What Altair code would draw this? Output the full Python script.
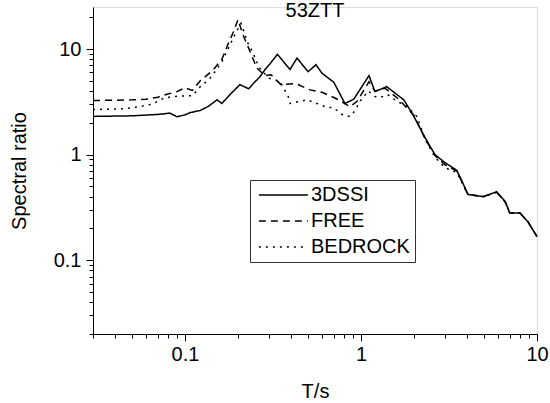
import altair as alt
import pandas as pd

series_names = ["3DSSI", "FREE", "BEDROCK"]

x_3dssi = [0.03, 0.05, 0.07, 0.082, 0.09, 0.1, 0.107, 0.122, 0.135, 0.152, 0.162, 0.18, 0.205, 0.23, 0.25,
           0.265, 0.285, 0.305, 0.335, 0.395, 0.433, 0.5, 0.555, 0.6, 0.7, 0.81, 0.91, 1.11, 1.2, 1.4,
           1.75, 1.97, 2.31, 2.63, 3.0, 3.5, 3.75, 4.05, 4.95, 5.9, 6.6, 7.0, 8.0, 8.9, 10]
y_3dssi = [2.3, 2.33, 2.4, 2.47, 2.28, 2.38, 2.5, 2.62, 2.85, 3.3, 3.05, 3.7, 4.6, 4.2, 4.9,
           5.4, 6.4, 7.3, 8.9, 6.4, 8.2, 6.1, 7.1, 5.9, 4.85, 3.05, 3.35, 5.6, 3.95, 4.4,
           3.3, 2.4, 1.45, 1.0, 0.84, 0.71, 0.56, 0.42, 0.40, 0.445, 0.36, 0.28, 0.28, 0.23, 0.167]

x_free = [0.03, 0.05, 0.06, 0.07, 0.08, 0.09, 0.1, 0.11, 0.122, 0.144, 0.162, 0.175, 0.19, 0.2,
          0.214, 0.234, 0.256, 0.285, 0.308, 0.351, 0.427, 0.513, 0.6, 0.72, 0.866, 0.95, 1.11, 1.2,
          1.37, 1.62, 2.0, 2.31, 2.63, 3.0, 3.5, 3.75, 4.05, 4.95, 5.9, 6.6, 7.0, 8.0, 8.9, 10]
y_free = [3.25, 3.3, 3.35, 3.5, 3.75, 3.95, 4.3, 4.05, 5.0, 6.3, 8.0, 11.0, 15.0, 19.0,
          13.5, 9.5, 6.6, 5.6, 5.7, 4.6, 4.7, 4.1, 3.9, 3.4, 2.85, 3.2, 4.9, 4.0,
          4.25, 3.4, 2.35, 1.42, 0.98, 0.8, 0.7, 0.55, 0.42, 0.40, 0.44, 0.355, 0.28, 0.28, 0.23, 0.167]

x_bedrock = [0.03, 0.045, 0.055, 0.065, 0.075, 0.085, 0.1, 0.11, 0.125, 0.135, 0.148, 0.162, 0.174,
             0.192, 0.208, 0.228, 0.243, 0.263, 0.3, 0.347, 0.385, 0.395, 0.494, 0.548, 0.641, 0.693,
             0.78, 0.866, 0.924, 0.987, 1.1, 1.2, 1.28, 1.42, 1.6, 1.83, 2.08, 2.31, 2.63, 3.0, 3.5,
             3.75, 4.05, 4.95, 5.9, 6.6, 7.0, 8.0, 8.9, 10]
y_bedrock = [2.67, 2.72, 2.85, 3.0, 3.4, 3.55, 3.6, 3.6, 4.6, 5.0, 6.1, 7.6, 9.7,
             13.7, 17.5, 11.3, 9.3, 6.7, 5.3, 4.9, 3.6, 3.05, 3.3, 3.1, 2.8, 2.8,
             2.4, 2.29, 2.6, 3.2, 4.0, 3.55, 3.47, 3.7, 3.2, 2.85, 2.29, 1.4, 0.95, 0.75, 0.68,
             0.54, 0.42, 0.40, 0.44, 0.355, 0.28, 0.28, 0.23, 0.167]

x_ticks = [0.03, 0.04, 0.05, 0.06, 0.07, 0.08, 0.09, 0.1, 0.2, 0.3, 0.4, 0.5, 0.6, 0.7, 0.8, 0.9,
           1, 2, 3, 4, 5, 6, 7, 8, 9, 10]
y_ticks = [0.02, 0.03, 0.04, 0.05, 0.06, 0.07, 0.08, 0.09, 0.1, 0.2, 0.3, 0.4, 0.5, 0.6, 0.7, 0.8, 0.9,
           1, 2, 3, 4, 5, 6, 7, 8, 9, 10, 20]

rows = []
for name, xs, ys in zip(series_names, [x_3dssi, x_free, x_bedrock], [y_3dssi, y_free, y_bedrock]):
    for i, (xv, yv) in enumerate(zip(xs, ys)):
        rows.append({"series": name, "T": xv, "ratio": yv, "order": i})
df = pd.DataFrame(rows)

FONT = "Liberation Sans"
major_test = "abs(log(datum.value)/LN10 - round(log(datum.value)/LN10)) < 0.001"
label_expr = "abs(log(datum.value)/LN10 - round(log(datum.value)/LN10)) < 0.001 ? (datum.value < 1 ? '0.1' : format(datum.value, 'd')) : ''"

x_axis = alt.Axis(
    values=x_ticks, labelExpr=label_expr, title="T/s", grid=False,
    tickSize={"condition": {"test": major_test, "value": 7}, "value": 4},
    tickColor="black", domainColor="black", labelColor="black", titleColor="black",
    labelFont=FONT, titleFont=FONT, labelFontSize=20, titleFontSize=20, titleFontWeight="normal",
    labelPadding=3, titlePadding=17, labelOverlap=False, labelFlush=False,
)
y_axis = alt.Axis(
    values=y_ticks, labelExpr=label_expr, title="Spectral ratio", grid=False,
    tickSize={"condition": {"test": major_test, "value": 7}, "value": 4},
    tickColor="black", domainColor="black", labelColor="black", titleColor="black",
    labelFont=FONT, titleFont=FONT, labelFontSize=20, titleFontSize=20, titleFontWeight="normal",
    labelPadding=5, titlePadding=24, labelOverlap=False, labelFlush=False,
)

chart = alt.Chart(df).mark_line(color="black", strokeWidth=1.5).encode(
    x=alt.X("T:Q", scale=alt.Scale(type="log", domain=[0.03, 10]), axis=x_axis),
    y=alt.Y("ratio:Q", scale=alt.Scale(type="log", domain=[0.02, 25]), axis=y_axis),
    strokeDash=alt.StrokeDash(
        "series:N",
        scale=alt.Scale(domain=series_names, range=[[1, 0], [7, 5], [2, 5]]),
        legend=alt.Legend(
            title=None, orient="none", legendX=157, legendY=173,
            strokeColor="#333333", fillColor="white", padding=5,
            symbolType="M-1,0H7", symbolSize=150, symbolStrokeWidth=1.5,
            symbolStrokeColor="black", labelFont=FONT, labelFontSize=20, labelColor="black",
            labelOffset=36, rowPadding=6,
        ),
    ),
    order="order:Q",
).properties(
    width=444, height=327,
    title=alt.TitleParams("53ZTT", font=FONT, fontSize=20, fontWeight="normal", color="black",
                          anchor="middle", offset=-14),
    autosize=alt.AutoSizeParams(type="none"),
    padding={"left": 93, "top": 7, "right": 13, "bottom": 69},
).configure_view(stroke=None).configure(background="white")

chart.save("out.html", embed_options={"renderer": "svg", "actions": False})
